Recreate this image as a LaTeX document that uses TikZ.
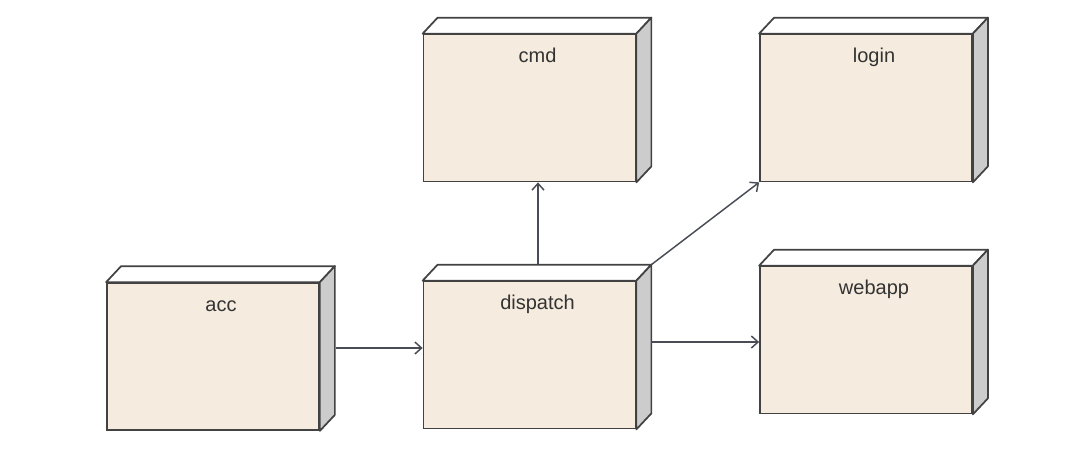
\documentclass[tikz,border=0pt]{standalone}
\usepackage{fontspec}
\setmainfont{Liberation Sans}
\usetikzlibrary{calc,arrows.meta}

\definecolor{boxline}{RGB}{66,66,66}
\definecolor{boxfront}{RGB}{245,235,222}
\definecolor{boxside}{RGB}{204,204,204}
\definecolor{linkline}{RGB}{72,76,84}
\definecolor{labeltext}{RGB}{51,51,51}

\tikzset{
  node3d/.style={draw=boxline, line width=1.3pt, fill=boxfront, inner sep=0pt,
    text width=159pt, align=center, text height=21pt, text depth=89.25pt,
    execute at begin node={\hspace*{12pt}},
    font=\fontsize{15}{18}\selectfont, text=labeltext},
  topface/.style={draw=boxline, line width=1.3pt, fill=white, line join=round},
  sideface/.style={draw=boxline, line width=1.3pt, fill=boxside, line join=round},
  link/.style={draw=linkline, line width=1.1pt, -{Straight Barb[length=5pt,width=9pt]}}
}

% top and right faces of a box
\newcommand{\boxfaces}[1]{%
  \draw [topface] (#1.north west) -- ++(15,-16) -- ($(#1.north east)+(15,-16)$) -- (#1.north east) -- cycle ;
  \draw [sideface] (#1.north east) -- ++(15,-16) -- ($(#1.south east)+(15,-16)$) -- (#1.south east) -- cycle ;
}

\begin{document}
\begin{tikzpicture}[x=0.75pt,y=0.75pt,yscale=-1,xscale=1]
\useasboundingbox (0,0) rectangle (1080,462);

%Shape: Box [cmd]
\node [node3d] (cmd) at (529.5,108) {cmd};
\boxfaces{cmd}
%Shape: Box [login]
\node [node3d] (login) at (866,108) {login};
\boxfaces{login}
%Shape: Box [acc]
\node [node3d] (acc) at (213,356.5) {acc};
\boxfaces{acc}
%Shape: Box [dispatch]
\node [node3d] (dispatch) at (529.5,355) {dispatch};
\boxfaces{dispatch}
%Shape: Box [webapp]
\node [node3d] (webapp) at (866,340) {webapp};
\boxfaces{webapp}

%Straight Lines [acc -> dispatch]
\draw [link] ($(acc.east)+(16,-8.5)$) -- ($(dispatch.west)+(0,-7)$) ;
%Straight Lines [dispatch -> cmd]
\draw [link] ($(dispatch.north)+(8.5,-17)$) -- ($(cmd.south)+(8.5,0)$) ;
%Straight Lines [dispatch -> login]
\draw [link] ($(dispatch.north east)+(15,-16)$) -- (login.south west) ;
%Straight Lines [dispatch -> webapp]
\draw [link] ($(dispatch.east)+(15,-13)$) -- ($(webapp.west)+(0,2)$) ;

\end{tikzpicture}
\end{document}
